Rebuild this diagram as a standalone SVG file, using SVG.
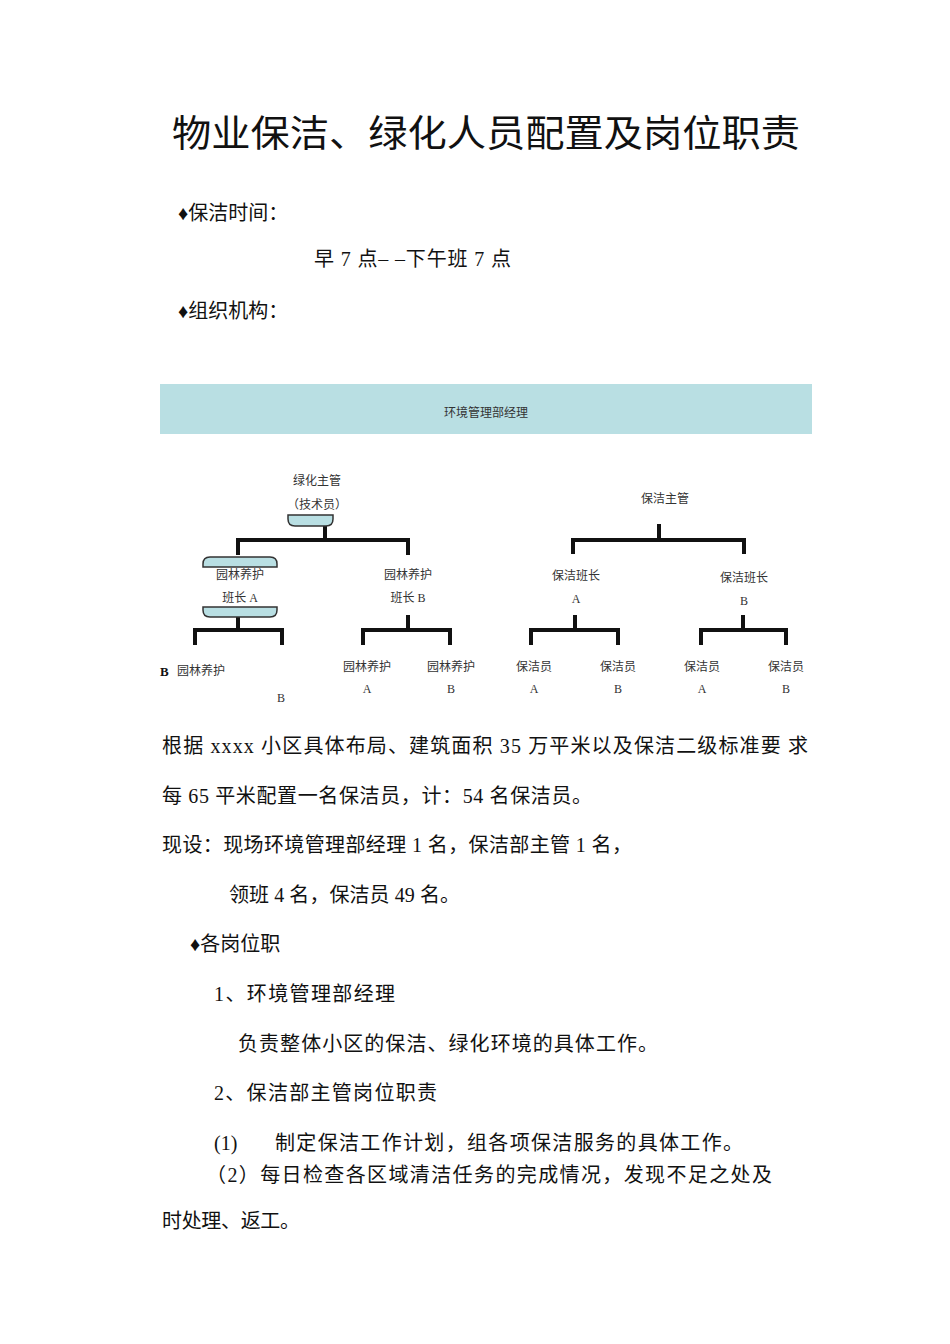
<svg xmlns="http://www.w3.org/2000/svg" width="950" height="1344" viewBox="0 0 950 1344">
<style>
text{font-family:"Liberation Serif","Noto Sans CJK SC",serif;fill:#111}
.b{font-size:20px}
.s{font-size:12px;fill:#333;text-anchor:middle}
.ln{stroke:#111;stroke-width:4;fill:none}
.tl{fill:#b9dfe3;stroke:#333;stroke-width:1.5}
</style>
<rect width="950" height="1344" fill="#fff"/>
<text x="172" y="147" font-size="37" textLength="628" lengthAdjust="spacingAndGlyphs">物业保洁、绿化人员配置及岗位职责</text>
<text class="b" x="178" y="220">♦保洁时间：</text>
<text class="b" x="314" y="266" textLength="197">早 7 点–  –下午班 7 点</text>
<text class="b" x="178" y="318">♦组织机构：</text>
<g id="manager"><rect x="160" y="384" width="652" height="50" fill="#b9dfe3"/><text class="s" x="486" y="417">环境管理部经理</text></g>
<g id="connectors">
<path class="ln" d="M325 526V540M238 555V540H408V555"/>
<path class="ln" d="M238 617V630M195 645V630H282V645"/>
<path class="ln" d="M408 615V630M363 645V630H450V645"/>
<path class="ln" d="M659 524V540M573 554V540H744V554"/>
<path class="ln" d="M575 615V630M531 645V630H618V645"/>
<path class="ln" d="M743 615V630M701 645V630H786V645"/>
</g>
<g id="green-sup"><path class="tl" d="M288 515V519Q288 526 295 526H326Q333 526 333 519V515Z"/><text class="s" x="317" y="485">绿化主管</text><text class="s" x="317" y="509">（技术员）</text></g>
<g id="green-lead-a"><path class="tl" d="M203 567V564Q203 557 210 557H270Q277 557 277 564V567Z"/><path class="tl" d="M203 607V610Q203 617 210 617H270Q277 617 277 610V607Z"/><text class="s" x="240" y="579">园林养护</text><text class="s" x="240" y="602">班长 A</text></g>
<g id="green-lead-b"><text class="s" x="408" y="579">园林养护</text><text class="s" x="408" y="602">班长 B</text></g>
<g id="g-a-b"><text x="160" y="676" font-size="13" font-family="Liberation Sans" font-weight="bold">B</text><text class="s" x="201" y="675">园林养护</text><text class="s" x="281" y="702">B</text></g>
<g id="g-b-a"><text class="s" x="367" y="671">园林养护</text><text class="s" x="367" y="693">A</text></g>
<g id="g-b-b"><text class="s" x="451" y="671">园林养护</text><text class="s" x="451" y="693">B</text></g>
<g id="clean-sup"><text class="s" x="665" y="503">保洁主管</text></g>
<g id="clean-lead-a"><text class="s" x="576" y="580">保洁班长</text><text class="s" x="576" y="603">A</text></g>
<g id="clean-lead-b"><text class="s" x="744" y="582">保洁班长</text><text class="s" x="744" y="605">B</text></g>
<g id="c1"><text class="s" x="534" y="671">保洁员</text><text class="s" x="534" y="693">A</text></g>
<g id="c2"><text class="s" x="618" y="671">保洁员</text><text class="s" x="618" y="693">B</text></g>
<g id="c3"><text class="s" x="702" y="671">保洁员</text><text class="s" x="702" y="693">A</text></g>
<g id="c4"><text class="s" x="786" y="671">保洁员</text><text class="s" x="786" y="693">B</text></g>
<text class="b" x="162" y="753" textLength="646">根据 xxxx 小区具体布局、建筑面积 35 万平米以及保洁二级标准要  求</text>
<text class="b" x="162" y="803" textLength="430">每 65 平米配置一名保洁员，计：54 名保洁员。</text>
<text class="b" x="162" y="852" textLength="470">现设：现场环境管理部经理 1 名，保洁部主管 1 名，</text>
<text class="b" x="229" y="902" textLength="231">领班 4 名，保洁员 49 名。</text>
<text class="b" x="190" y="951">♦各岗位职</text>
<text class="b" x="214" y="1001" textLength="181">1、环境管理部经理</text>
<text class="b" x="238" y="1051" textLength="420">负责整体小区的保洁、绿化环境的具体工作。</text>
<text class="b" x="214" y="1100" textLength="223">2、保洁部主管岗位职责</text>
<text class="b" x="214" y="1150">(1)</text>
<text class="b" x="275" y="1150" textLength="468">制定保洁工作计划，组各项保洁服务的具体工作。</text>
<text class="b" x="206" y="1182" textLength="566">（2）每日检查各区域清洁任务的完成情况，发现不足之处及</text>
<text class="b" x="162" y="1228" textLength="138">时处理、返工。</text>
</svg>
